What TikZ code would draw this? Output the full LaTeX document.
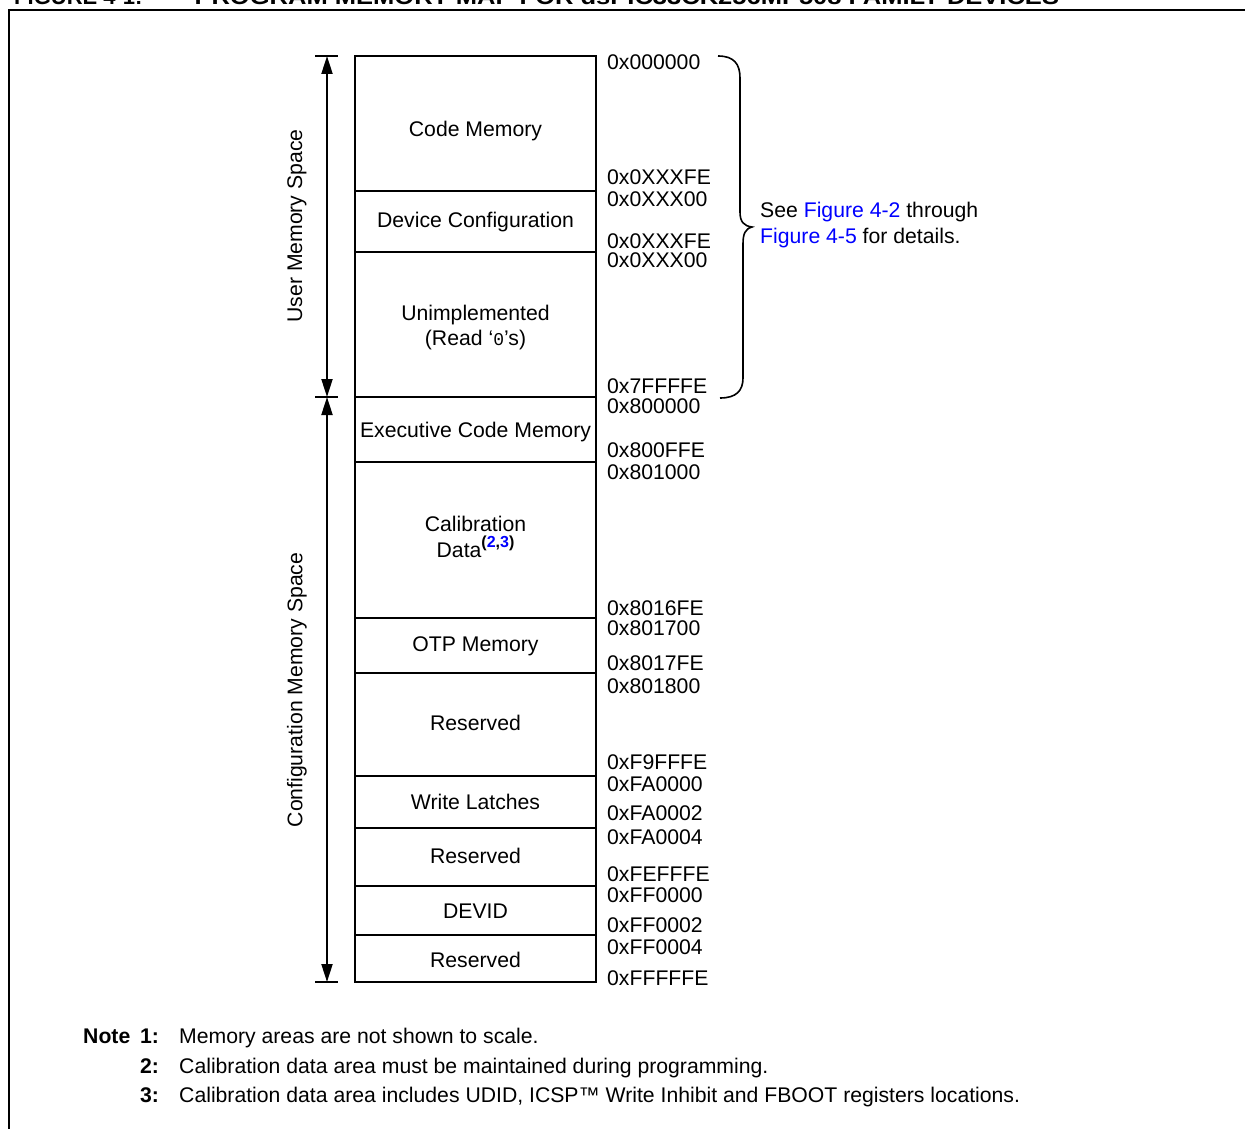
\documentclass[tikz,border=0pt]{standalone}
\usepackage{fontspec}
\setmainfont{Liberation Sans}
\newfontfamily\monof{Liberation Mono}
\usetikzlibrary{arrows.meta}
\definecolor{lnk}{RGB}{0,0,255}
\begin{document}
\begin{tikzpicture}[x=1pt,y=-1pt,
  txt/.style={font=\fontsize{21.2}{25}\selectfont, inner sep=0pt, anchor=base},
  addr/.style={txt, anchor=base west},
  note/.style={txt, anchor=base west},
  ln/.style={line width=2pt},
  tick/.style={line width=2pt},
  arr/.style={line width=2pt, {Triangle[length=18pt,width=11pt]}-{Triangle[length=18pt,width=11pt]}},
  brace/.style={line width=1.6pt}]
\useasboundingbox (0,0) rectangle (1245,1129);
\clip (0,0) rectangle (1245,1129);
\fill[white] (0,0) rectangle (1245,1129);
% title (cut off at top)
\node[anchor=base west, inner sep=0pt, font=\bfseries\fontsize{22}{26}\selectfont] (title) at (14,5)
  {FIGURE 4-1:\hspace{52pt}\scalebox{1.16}[1]{PROGRAM MEMORY MAP FOR dsPIC33CK256MP508 FAMILY DEVICES}};
% frame
\draw[line width=2pt] (9,1140) -- (9,10.5) -- (1260,10.5);
% memory column
\draw[ln] (355,56) rectangle (596,982);
\foreach \y in {191,252,397,462,618,673,776,828,886,935}
  \draw[ln] (355,\y) -- (596,\y);
% ticks and arrows
\coordinate (ut) at (327,56);
\coordinate (um) at (327,397);
\coordinate (ub) at (327,982);
\draw[tick] (315,56) -- (338,56);
\draw[tick] (315,397) -- (338,397);
\draw[tick] (315,982) -- (338,982);
\draw[arr] (ut) -- (um);
\draw[arr] (um) -- (ub);
\node[txt, anchor=center, rotate=90] (ums) at (297,226) {User Memory Space};
\node[txt, anchor=center, rotate=90] (cms) at (297,690) {Configuration Memory Space};
% block labels
\node[txt] (l1) at (475.5,137) {Code Memory};
\node[txt] (l2) at (475.5,227) {Device Configuration};
\node[txt] (l3a) at (475.5,320) {Unimplemented};
\node[txt] (l3b) at (475.5,345) {(Read ‘{\monof\fontsize{18}{20}\selectfont 0}’s)};
\node[txt] (l4) at (475.5,437) {Executive Code Memory};
\node[txt] (l5a) at (475.5,531) {Calibration};
\node[txt] (l5b) at (475.5,557) {Data\raisebox{10pt}{\fontsize{16}{18}\selectfont\bfseries(\textcolor{lnk}{2},\textcolor{lnk}{3})}};
\node[txt] (l6) at (475.5,651) {OTP Memory};
\node[txt] (l7) at (475.5,730) {Reserved};
\node[txt] (l8) at (475.5,809) {Write Latches};
\node[txt] (l9) at (475.5,863) {Reserved};
\node[txt] (l10) at (475.5,918) {DEVID};
\node[txt] (l11) at (475.5,967) {Reserved};
% addresses
\node[addr] (a1) at (607,70) {0x000000};
\node[addr] (a2) at (607,185) {0x0XXXFE};
\node[addr] (a3) at (607,206) {0x0XXX00};
\node[addr] (a4) at (607,248) {0x0XXXFE};
\node[addr] (a5) at (607,267) {0x0XXX00};
\node[addr] (a6) at (607,393) {0x7FFFFE};
\node[addr] (a7) at (607,413) {0x800000};
\node[addr] (a8) at (607,457) {0x800FFE};
\node[addr] (a9) at (607,479) {0x801000};
\node[addr] (a10) at (607,615) {0x8016FE};
\node[addr] (a11) at (607,635) {0x801700};
\node[addr] (a12) at (607,670) {0x8017FE};
\node[addr] (a13) at (607,693) {0x801800};
\node[addr] (a14) at (607,769) {0xF9FFFE};
\node[addr] (a15) at (607,791) {0xFA0000};
\node[addr] (a16) at (607,820) {0xFA0002};
\node[addr] (a17) at (607,844) {0xFA0004};
\node[addr] (a18) at (607,881) {0xFEFFFE};
\node[addr] (a19) at (607,902) {0xFF0000};
\node[addr] (a20) at (607,932) {0xFF0002};
\node[addr] (a21) at (607,954) {0xFF0004};
\node[addr] (a22) at (607,985) {0xFFFFFE};
% brace
\coordinate (bt) at (718,56);
\coordinate (bb) at (720,398);
\draw[brace] (bt) .. controls (734,56) and (740,64) .. (740,78) -- (740,212)
  .. controls (740,222) and (744,226) .. (752,227)
  .. controls (745,229) and (743,234) .. (743,244) -- (743,378)
  .. controls (743,391) and (736,398) .. (bb);
\node[note] (s1) at (760,217) {See \textcolor{lnk}{Figure 4-2} through};
\node[note] (s2) at (760,243) {\textcolor{lnk}{Figure 4-5} for details.};
% notes
\node[note, font=\bfseries\fontsize{21.2}{25}\selectfont] (n0) at (83,1043) {Note};
\node[note, font=\bfseries\fontsize{21.2}{25}\selectfont] (n1) at (140,1043) {1:};
\node[note, font=\bfseries\fontsize{21.2}{25}\selectfont] (n2) at (140,1073) {2:};
\node[note, font=\bfseries\fontsize{21.2}{25}\selectfont] (n3) at (140,1102) {3:};
\node[note] (t1) at (179,1043) {Memory areas are not shown to scale.};
\node[note] (t2) at (179,1073) {Calibration data area must be maintained during programming.};
\node[note] (t3) at (179,1102) {Calibration data area includes UDID, ICSP™ Write Inhibit and FBOOT registers locations.};
\end{tikzpicture}
\end{document}
